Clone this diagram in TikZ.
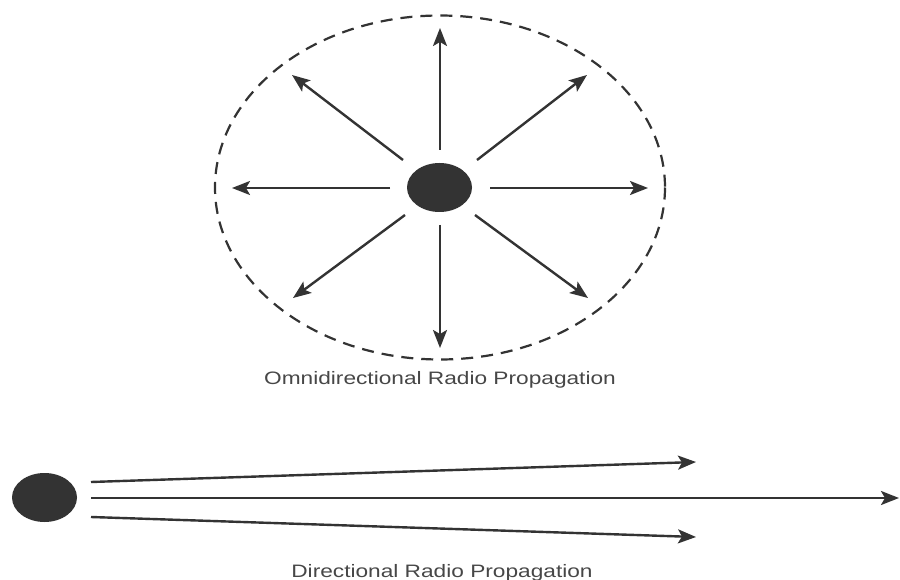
\documentclass[tikz,border=0pt]{standalone}
\usepackage{fontspec}
\setmainfont{Liberation Sans}
\usepackage{graphicx}
\usetikzlibrary{arrows.meta,shapes.geometric}
\definecolor{ink}{HTML}{333333}
\tikzset{
  ray/.style={draw=ink, line width=2.4pt, -{Stealth[length=18pt,width=14pt,inset=4pt]}},
  dot/.style={ellipse, fill=ink, draw=none, inner sep=0pt},
  caption/.style={anchor=base, text=ink!90, font=\fontsize{18}{21}\selectfont},
}
\begin{document}
\begin{tikzpicture}[x=1pt,y=-1pt]
\useasboundingbox (0,0) rectangle (900,580);
\fill[white] (0,0) rectangle (900,580);
% omnidirectional
\draw[ink, line width=2.2pt, dash pattern=on 12pt off 8pt] (440,187.5) ellipse [x radius=225, y radius=172];
\node[dot, minimum width=65pt, minimum height=49pt] (src) at (439.5,187.5) {};
\coordinate (s1) at (440,150); \coordinate (e1) at (440,28);
\coordinate (s2) at (440,225); \coordinate (e2) at (440,348);
\coordinate (s3) at (390,188); \coordinate (e3) at (232,188);
\coordinate (s4) at (490,188); \coordinate (e4) at (648,188);
\coordinate (s5) at (477,160); \coordinate (e5) at (587,75);
\coordinate (s6) at (403,160); \coordinate (e6) at (292,75);
\coordinate (s7) at (475,215); \coordinate (e7) at (588,298);
\coordinate (s8) at (405,215); \coordinate (e8) at (293,298);
\foreach \i in {1,...,8} { \draw[ray] (s\i) -- (e\i); }
\node[caption] (cap1) at (440,384) {\scalebox{1.26}[1]{Omnidirectional Radio Propagation}};
% directional
\node[dot, minimum width=65pt, minimum height=49pt] (dsrc) at (44.5,497.5) {};
\coordinate (d1) at (91,482); \coordinate (t1) at (696,462);
\coordinate (d2) at (91,498); \coordinate (t2) at (899,498);
\coordinate (d3) at (91,517); \coordinate (t3) at (696,537);
\foreach \i in {1,2,3} { \draw[ray] (d\i) -- (t\i); }
\node[caption] (cap2) at (442,577) {\scalebox{1.26}[1]{Directional Radio Propagation}};
\end{tikzpicture}
\end{document}
